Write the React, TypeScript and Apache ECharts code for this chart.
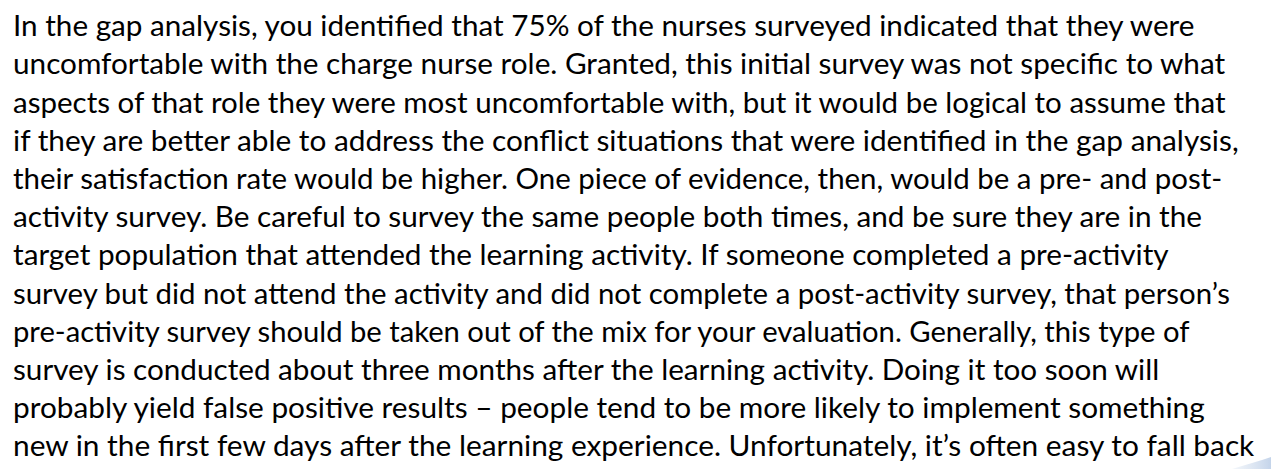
import React, { useEffect, useRef } from "react";
import * as echarts from "echarts";

const lines: string[] = [
  "In the gap analysis, you identified that 75% of the nurses surveyed indicated that they were",
  "uncomfortable with the charge nurse role. Granted, this initial survey was not specific to what",
  "aspects of that role they were most uncomfortable with, but it would be logical to assume that",
  "if they are better able to address the conflict situations that were identified in the gap analysis,",
  "their satisfaction rate would be higher. One piece of evidence, then, would be a pre- and post-",
  "activity survey. Be careful to survey the same people both times, and be sure they are in the",
  "target population that attended the learning activity. If someone completed a pre-activity",
  "survey but did not attend the activity and did not complete a post-activity survey, that person\u2019s",
  "pre-activity survey should be taken out of the mix for your evaluation. Generally, this type of",
  "survey is conducted about three months after the learning activity. Doing it too soon will",
  "probably yield false positive results \u2013 people tend to be more likely to implement something",
  "new in the first few days after the learning experience. Unfortunately, it\u2019s often easy to fall back",
];

// right edge (px) of each line in the layout, used to fit the substitute font
const lineRightEdges: number[] = [1197, 1228, 1229, 1242, 1225, 1204, 1170, 1232, 1194, 1162, 1208, 1257];

const FONT_FAMILY = "Lato";
const FONT_SIZE = 29.5;

export default function App() {
  const ref = useRef<HTMLDivElement>(null);
  useEffect(() => {
    if (!ref.current) return;
    const chart = echarts.init(ref.current, undefined, { renderer: "svg" });
    const left = 13;
    const firstBaseline = 35;
    const step = 38.2;

    const ctx = document.createElement("canvas").getContext("2d")!;
    ctx.font = `${FONT_SIZE}px ${FONT_FAMILY}`;

    const elements: any[] = lines.map((t, i) => {
      const measured = ctx.measureText(t).width;
      const sx = measured > 0 ? (lineRightEdges[i] - left) / measured : 1;
      return {
        type: "text",
        x: left,
        y: firstBaseline + i * step - FONT_SIZE * 0.35,
        scaleX: sx,
        style: {
          text: t,
          x: 0,
          y: 0,
          fill: "#000000",
          font: `${FONT_SIZE}px ${FONT_FAMILY}`,
          align: "left",
          verticalAlign: "middle",
        },
        silent: true,
      };
    });

    elements.unshift({
      type: "polygon",
      shape: { points: [[1232, 469], [1262, 460], [1271, 457], [1271, 469]] },
      style: {
        fill: new echarts.graphic.LinearGradient(0, 0, 1, 0, [
          { offset: 0, color: "rgba(215,226,240,0.3)" },
          { offset: 1, color: "rgba(196,212,234,1)" },
        ]),
      },
      silent: true,
    });

    chart.setOption({
      animation: false,
      backgroundColor: "#ffffff",
      graphic: { elements },
    });
    return () => chart.dispose();
  }, []);
  return <div ref={ref} style={{ width: 1271, height: 469, position: "absolute", left: 0, top: 0 }} />;
}
